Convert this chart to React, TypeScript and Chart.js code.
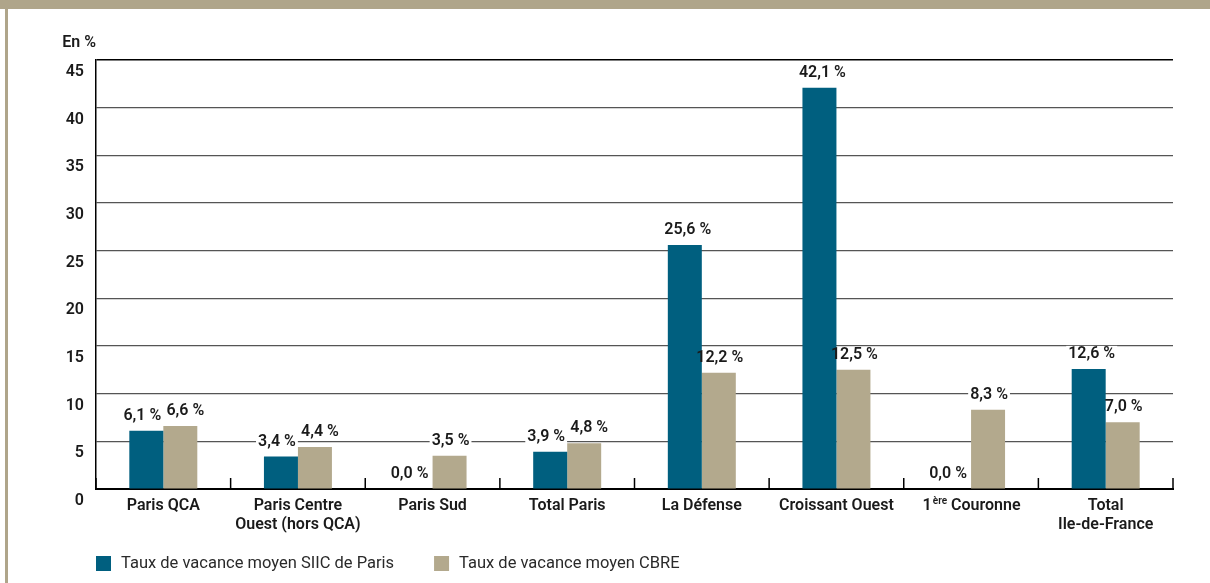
import React, { useEffect, useRef } from "react";
import { Chart, registerables } from "chart.js";

Chart.register(...registerables);

// ---- Data ----
const categories: (string | string[])[] = [
  "Paris QCA",
  ["Paris Centre", "Ouest (hors QCA)"],
  "Paris Sud",
  "Total Paris",
  "La Défense",
  "Croissant Ouest",
  "1ère Couronne",
  ["Total", "Ile-de-France"],
];
const siicValues = [6.1, 3.4, 0.0, 3.9, 25.6, 42.1, 0.0, 12.6];
const cbreValues = [6.6, 4.4, 3.5, 4.8, 12.2, 12.5, 8.3, 7.0];
const seriesNames = ["Taux de vacance moyen SIIC de Paris", "Taux de vacance moyen CBRE"];
const yTicks = [0, 5, 10, 15, 20, 25, 30, 35, 40, 45];
const yUnitLabel = "En %";

// ---- Styles ----
const BLUE = "#005F7F";
const TAN = "#B3A98D";
const FRAME = "#AFA58A";
const FONT = "Roboto, 'DejaVu Sans', sans-serif";
const TEXT = "#1a1a1a";
const W = "600";
const LABEL_FONT = `${W} 16px ${FONT}`;

const fmt = (v: number) => v.toFixed(1).replace(".", ",") + " %";

function drawRich(ctx: CanvasRenderingContext2D, text: string, cx: number, cy: number, size: number, weight: string) {
  const m = text.match(/^(\d+)(ère|er|re|e)(\s.*)$/);
  ctx.textBaseline = "middle";
  if (!m) {
    ctx.font = `${weight} ${size}px ${FONT}`;
    ctx.textAlign = "center";
    ctx.fillText(text, cx, cy);
    return;
  }
  const mainFont = `${weight} ${size}px ${FONT}`;
  const supFont = `${weight} ${Math.round(size * 0.6)}px ${FONT}`;
  ctx.font = mainFont;
  const w1 = ctx.measureText(m[1]).width;
  const w3 = ctx.measureText(m[3]).width;
  ctx.font = supFont;
  const w2 = ctx.measureText(m[2]).width;
  let x = cx - (w1 + w2 + w3) / 2;
  ctx.textAlign = "left";
  ctx.font = mainFont;
  ctx.fillText(m[1], x, cy);
  x += w1 + 1;
  ctx.font = supFont;
  ctx.fillText(m[2], x, cy - size * 0.3);
  x += w2;
  ctx.font = mainFont;
  ctx.fillText(m[3], x, cy);
}

function labelItems(chart: any) {
  const ctx: CanvasRenderingContext2D = chart.ctx;
  const n = chart.data.labels.length;
  const metas = chart.data.datasets.map((_: any, d: number) => chart.getDatasetMeta(d));
  const items: { txt: string; cx: number; cy: number; w: number }[] = [];
  ctx.save();
  ctx.font = LABEL_FONT;
  for (let i = 0; i < n; i++) {
    const tops = metas.map((m: any) => m.data[i].y);
    const near = Math.abs(tops[0] - tops[1]) < 20;
    metas.forEach((m: any, d: number) => {
      const el = m.data[i];
      const v = chart.data.datasets[d].data[i];
      const txt = fmt(v);
      let shift = near ? (d === 0 ? -4 : 5) : d === 0 ? 3 : 1;
      if (v === 0) shift = -6;
      const w = ctx.measureText(txt).width;
      items.push({ txt, cx: el.x + shift, cy: el.y - 15, w });
    });
  }
  ctx.restore();
  return items;
}

const decorPlugin = {
  id: "decor",
  beforeDatasetsDraw(chart: any) {
    const ctx: CanvasRenderingContext2D = chart.ctx;
    ctx.save();
    ctx.fillStyle = "#fff";
    labelItems(chart).forEach((it) => {
      ctx.fillRect(it.cx - it.w / 2 - 2, it.cy - 8, it.w + 4, 16);
    });
    ctx.restore();
  },
  afterDatasetsDraw(chart: any) {
    const ctx: CanvasRenderingContext2D = chart.ctx;
    const xs = chart.scales.x;
    const area = chart.chartArea;
    const n = chart.data.labels.length;
    const step = n > 1 ? xs.getPixelForValue(1) - xs.getPixelForValue(0) : xs.width;
    ctx.save();

    // tick marks at category boundaries (pointing up)
    ctx.strokeStyle = "#000";
    ctx.lineWidth = 1.5;
    for (let i = 0; i <= n; i++) {
      const px = i < n ? xs.getPixelForValue(i) - step / 2 : xs.getPixelForValue(n - 1) + step / 2;
      ctx.beginPath();
      ctx.moveTo(px, area.bottom);
      ctx.lineTo(px, area.bottom - 11);
      ctx.stroke();
    }

    // category labels
    ctx.fillStyle = TEXT;
    chart.data.labels.forEach((lab: string | string[], i: number) => {
      const lines = Array.isArray(lab) ? lab : [lab];
      const cx = xs.getPixelForValue(i);
      lines.forEach((ln, j) => {
        drawRich(ctx, ln, cx, area.bottom + 17 + j * 19, 16, W);
      });
    });

    // data labels (text)
    ctx.textAlign = "center";
    ctx.textBaseline = "middle";
    ctx.fillStyle = TEXT;
    labelItems(chart).forEach((it) => {
      ctx.font = LABEL_FONT;
      ctx.fillText(it.txt, it.cx, it.cy);
    });

    // unit label
    ctx.font = `${W} 16px ${FONT}`;
    ctx.textAlign = "right";
    ctx.textBaseline = "middle";
    ctx.fillStyle = TEXT;
    ctx.fillText(yUnitLabel, area.left, area.top - 17);

    // legend
    let lx = area.left;
    const ly = area.bottom + 75;
    ctx.font = `400 16.5px ${FONT}`;
    ctx.textAlign = "left";
    chart.data.datasets.forEach((ds: any) => {
      ctx.fillStyle = ds.backgroundColor;
      ctx.fillRect(lx, ly - 8, 15, 15);
      ctx.fillStyle = "#2a2a2a";
      ctx.fillText(ds.label, lx + 25, ly);
      lx += 25 + ctx.measureText(ds.label).width + 40;
    });
    ctx.restore();
  },
};

export default function App() {
  const ref = useRef<HTMLCanvasElement | null>(null);

  useEffect(() => {
    const canvas = ref.current;
    if (!canvas) return;
    const chart = new Chart(canvas, {
      type: "bar",
      data: {
        labels: categories as any,
        datasets: [
          { label: seriesNames[0], data: siicValues, backgroundColor: BLUE, categoryPercentage: 0.505, barPercentage: 1.0 },
          { label: seriesNames[1], data: cbreValues, backgroundColor: TAN, categoryPercentage: 0.505, barPercentage: 1.0 },
        ],
      },
      options: {
        animation: false,
        responsive: false,
        devicePixelRatio: 1,
        layout: { padding: { top: 60, left: 0, right: 37, bottom: 54 } },
        plugins: { legend: { display: false }, tooltip: { enabled: false } },
        scales: {
          x: {
            grid: { display: false },
            border: { display: true, color: "#000", width: 2 },
            ticks: { display: false },
            afterFit: (s: any) => {
              s.height = 40;
            },
          },
          y: {
            min: yTicks[0],
            max: yTicks[yTicks.length - 1],
            afterBuildTicks: (s: any) => {
              s.ticks = yTicks.map((v) => ({ value: v }));
            },
            afterFit: (s: any) => {
              s.width = 96;
            },
            grid: {
              drawTicks: false,
              color: (c: any) => (c.tick && c.tick.value === yTicks[yTicks.length - 1] ? "#000" : "#555"),
              lineWidth: (c: any) => (c.tick && c.tick.value === yTicks[yTicks.length - 1] ? 1.5 : 1.2),
            },
            border: { display: true, color: "#000", width: 1.5 },
            ticks: {
              padding: 12,
              labelOffset: 12,
              color: TEXT,
              font: { family: FONT, size: 16, weight: W },
              callback: (v: any) => String(v),
            },
          },
        },
      },
      plugins: [decorPlugin],
    });
    return () => chart.destroy();
  }, []);

  return (
    <div style={{ position: "fixed", left: 0, top: 0, width: 1210, height: 583, background: "#fff", overflow: "hidden" }}>
      <div style={{ position: "absolute", left: 0, top: 0, width: 1210, height: 9, background: FRAME }} />
      <div style={{ position: "absolute", left: 5, top: 0, width: 3, height: 583, background: FRAME }} />
      <canvas ref={ref} width={1210} height={583} style={{ position: "absolute", left: 0, top: 0, width: 1210, height: 583 }} />
    </div>
  );
}
